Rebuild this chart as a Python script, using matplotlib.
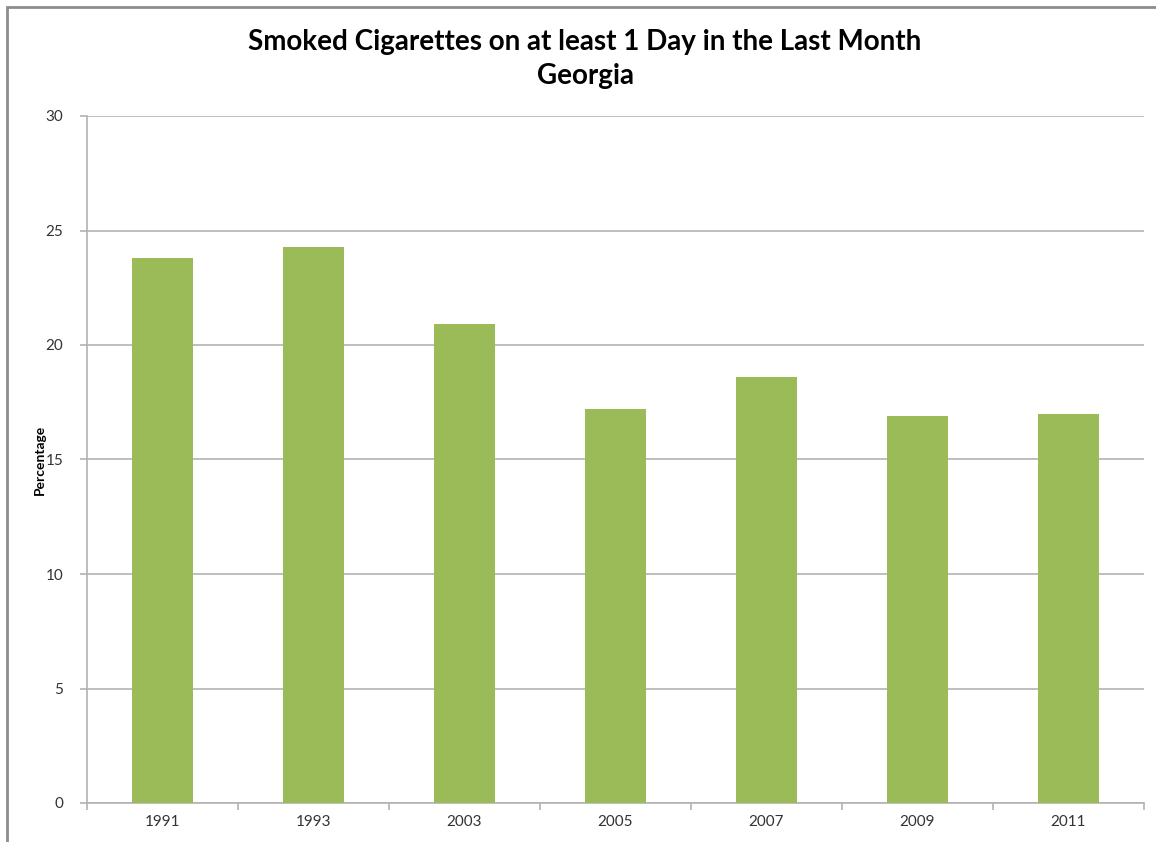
import matplotlib
matplotlib.use('Agg')
import matplotlib.pyplot as plt
import numpy as np
from matplotlib.patches import Rectangle

years = ['1991', '1993', '2003', '2005', '2007', '2009', '2011']
pct = [23.8, 24.3, 20.9, 17.2, 18.6, 16.9, 17.0]

BAR_C = '#9BBB59'
GRID = '#b3b3b3'
TEXT = '#333333'

plt.rcParams['font.family'] = ['Lato', 'DejaVu Sans']

fig = plt.figure(figsize=(11.56, 8.42), dpi=100, facecolor='white')
ax = fig.add_axes([87/1156, 39/842, (1144-87)/1156, (803-116)/842])

x = np.arange(len(years))
ax.bar(x, pct, width=0.4, color=BAR_C, zorder=3)

ax.set_xlim(-0.5, len(years) - 0.5)
ax.set_ylim(0, 30)
ax.set_yticks(range(0, 31, 5))
ax.set_xticks(x)
ax.set_xticklabels(years)
ax.set_xticks(np.arange(-0.5, len(years)), minor=True)
ax.tick_params(axis='x', which='major', length=0, pad=9, labelsize=11, labelcolor=TEXT)
ax.tick_params(axis='x', which='minor', length=5, color=GRID, width=1.2)
ax.tick_params(axis='y', length=5, color=GRID, width=1.2, pad=12, labelsize=11, labelcolor=TEXT)

ax.grid(True, axis='y', color=GRID, lw=1.2, zorder=0)
for s in ['top', 'right']:
    ax.spines[s].set_visible(False)
for s in ['left', 'bottom']:
    ax.spines[s].set_color(GRID)
    ax.spines[s].set_linewidth(1.2)

ax.set_ylabel('Percentage', fontsize=10, fontweight='bold', color='black', labelpad=0)

fig.text(585/1156, 1 - 42/842, 'Smoked Cigarettes on at least 1 Day in the Last Month',
         ha='center', va='center', fontsize=20, fontweight='bold', color='black')
fig.text(585/1156, 1 - 76/842, 'Georgia',
         ha='center', va='center', fontsize=20, fontweight='bold', color='black')

# outer chart border (right/bottom run off the image)
fig.patches.append(Rectangle((7/1156, -0.05), 1.1, 1 - 7/842 + 0.05,
                             transform=fig.transFigure, fill=False,
                             edgecolor='#8c8c8c', lw=2))

fig.savefig('out.png', dpi=100, facecolor='white')
